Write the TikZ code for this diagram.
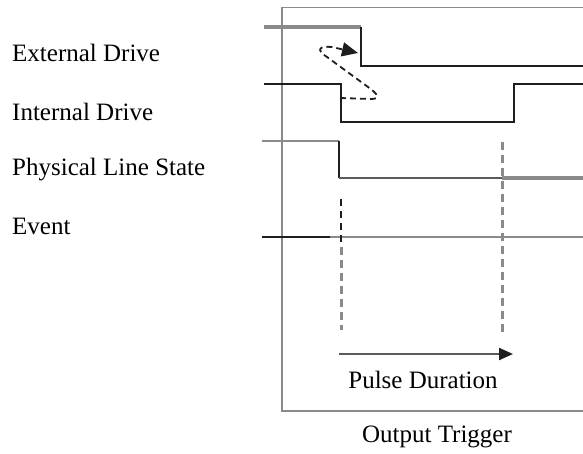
\documentclass[tikz,border=0pt]{standalone}
\usepackage{fontspec}
\setmainfont{Liberation Serif}
\usetikzlibrary{arrows.meta}
\definecolor{sig}{HTML}{1E1E1E}
\definecolor{lgray}{HTML}{8A8A8A}
\definecolor{mgray}{HTML}{5A5A5A}
\tikzset{
  lab/.style={anchor=west, inner sep=0pt, font=\fontsize{25}{28}\selectfont},
  captext/.style={inner sep=0pt, font=\fontsize{25}{28}\selectfont},
  blk/.style={draw=sig, line width=2.4pt},
  gry/.style={draw=lgray, line width=3.4pt},
  gryt/.style={draw=mgray, line width=2.2pt},
  blkdash/.style={draw=sig, line width=2pt, dash pattern=on 7pt off 5pt},
  grydash/.style={draw=lgray, line width=3pt, dash pattern=on 8pt off 5pt},
}
\begin{document}
\begin{tikzpicture}[x=1pt,y=-1pt]
\useasboundingbox (0,0) rectangle (583,454);
\clip (0,0) rectangle (583,454);
% frame
\draw[draw=lgray, line width=1.8pt] (282,7.5) rectangle (600,411);
% labels
\node[lab] (ext) at (12,53) {External Drive};
\node[lab] (int) at (12,112) {Internal Drive};
\node[lab] (phy) at (12,170) {Physical Line State};
\node[lab] (evt) at (12,226) {Event};
% coordinates
\coordinate (e0) at (264,27);
\coordinate (e1) at (361,27);
\coordinate (e2) at (361,66);
\coordinate (e3) at (590,66);
\coordinate (i0) at (264,84);
\coordinate (i1) at (341,84);
\coordinate (i2) at (341,122);
\coordinate (i3) at (514,122);
\coordinate (i4) at (514,84);
\coordinate (i5) at (590,84);
\coordinate (p0) at (262,141);
\coordinate (p1) at (339,141);
\coordinate (p2) at (339,178);
\coordinate (p3) at (502,178);
\coordinate (p4) at (590,178);
\coordinate (v0) at (262,237);
\coordinate (v1) at (330,237);
\coordinate (v2) at (590,237);
% External Drive
\draw[gry] (e0) -- (e1);
\draw[blk] (e1) -- (e2) -- (e3);
% Internal Drive
\draw[blk] (i0) -- (i1) -- (i2) -- (i3) -- (i4) -- (i5);
% Physical Line State
\draw[draw=lgray, line width=2.6pt] (p0) -- (p1);
\draw[blk] (p1) -- (p2);
\draw[gryt] (p2) -- (p3);
\draw[gry] (p3) -- (p4);
% Event
\draw[draw=sig, line width=2pt] (v0) -- (v1);
\draw[draw=lgray, line width=2.6pt] (v1) -- (v2);
% dashed markers
\coordinate (d0) at (341,199);
\coordinate (d1) at (341,247);
\coordinate (d2) at (341,330);
\coordinate (g0) at (502,142);
\coordinate (g1) at (502,332);
\draw[blkdash] (d0) -- (d1);
\draw[grydash] (d1) -- (d2);
\draw[grydash] (g0) -- (g1);
% causal loop arrow
\coordinate (c0) at (340,98);
\coordinate (c1) at (371,99);
\coordinate (c2) at (368,87);
\coordinate (c3) at (327,57);
\coordinate (c4) at (332,47);
\coordinate (c5) at (358,53);
\draw[draw=sig, line width=1.8pt, dash pattern=on 6pt off 4pt,
      -{Triangle[length=16pt,width=14pt]}]
  (c0) -- (c1) .. controls (381,99) and (378,94) .. (c2) -- (c3)
  .. controls (315,49) and (320,46) .. (c4) -- (c5);
% pulse duration
\coordinate (a0) at (339,354);
\coordinate (a1) at (513,354);
\draw[draw=mgray, line width=2.2pt, -{Triangle[length=14pt,width=12pt,color=sig]}] (a0) -- (a1);
\node[captext] (pd) at (423,380) {Pulse Duration};
\node[captext] (ot) at (437,437) {Output Trigger};
\end{tikzpicture}
\end{document}
